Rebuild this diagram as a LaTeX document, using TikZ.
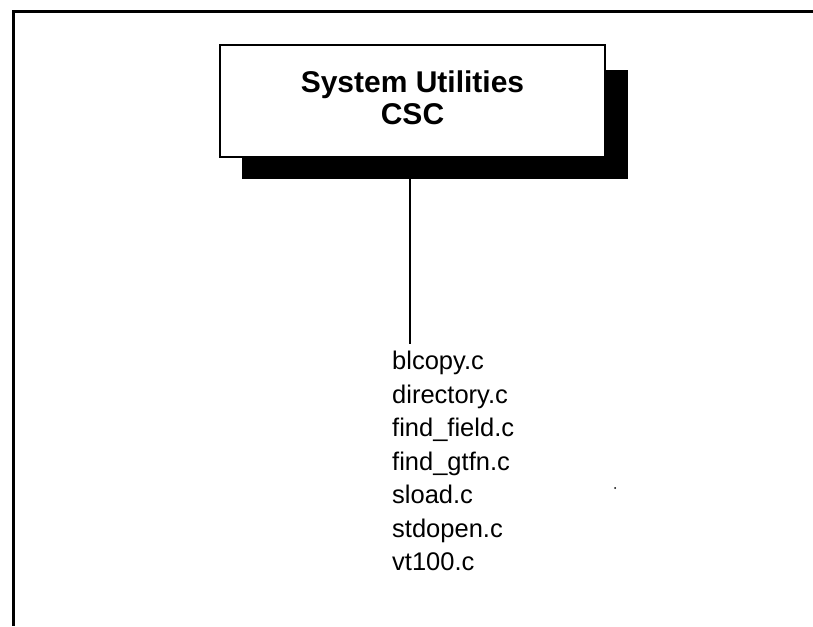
\documentclass[tikz,border=0pt]{standalone}
\usepackage{fontspec}
\setmainfont{Liberation Sans}
\usepackage{tikz}
\usetikzlibrary{positioning}
\tikzset{
  frame/.style={line width=3pt,black},
  unit/.style={draw,line width=2.5pt,fill=white,minimum width=385pt,minimum height=112pt,
    align=center,text depth=6pt,font=\fontsize{30}{32}\selectfont\bfseries},
  shade/.style={fill=black},
  link/.style={line width=2.5pt},
  files/.style={align=left,anchor=north west,inner sep=0pt,
    font=\fontsize{25.5}{33.5}\selectfont}
}
\begin{document}
\begin{tikzpicture}[x=1pt,y=-1pt]
\useasboundingbox (0,0) rectangle (813,626);
% open frame, top and left only
\draw[frame] (813,12) -- (13,12) -- (13,626);
% drop shadow, then the box
\fill[shade] (242,70) rectangle (628,179);
\node[unit] (csc) at (412.5,101) {System Utilities\\CSC};
\node[files] (list) at (392,351) {blcopy.c\\directory.c\\find\_field.c\\find\_gtfn.c\\sload.c\\stdopen.c\\vt100.c};
\coordinate (listtop) at (list.north -| 410,0);
\draw[link] (csc.south -| listtop) -- ([yshift=7pt]listtop);
\fill (615,488) circle (1pt);
\end{tikzpicture}
\end{document}
